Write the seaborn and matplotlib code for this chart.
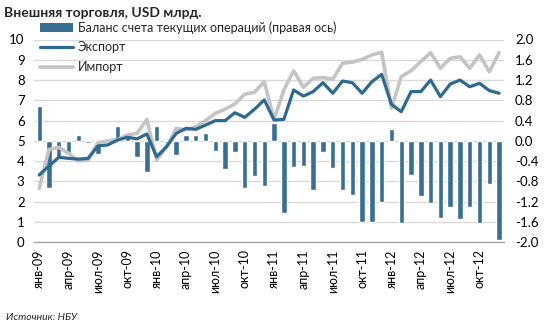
import matplotlib
matplotlib.use('Agg')
import matplotlib.pyplot as plt
import seaborn as sns
import pandas as pd
import numpy as np
from matplotlib.patches import Patch
from matplotlib.lines import Line2D

months = ['янв-09', 'фев-09', 'мар-09', 'апр-09', 'май-09', 'июн-09', 'июл-09', 'авг-09', 'сен-09', 'окт-09', 'ноя-09', 'дек-09',
          'янв-10', 'фев-10', 'мар-10', 'апр-10', 'май-10', 'июн-10', 'июл-10', 'авг-10', 'сен-10', 'окт-10', 'ноя-10', 'дек-10',
          'янв-11', 'фев-11', 'мар-11', 'апр-11', 'май-11', 'июн-11', 'июл-11', 'авг-11', 'сен-11', 'окт-11', 'ноя-11', 'дек-11',
          'янв-12', 'фев-12', 'мар-12', 'апр-12', 'май-12', 'июн-12', 'июл-12', 'авг-12', 'сен-12', 'окт-12', 'ноя-12', 'дек-12']

balance = [0.68, -0.93, -0.36, -0.23, 0.12, -0.05, -0.26, 0.00, 0.30, 0.15, -0.31, -0.62,
           0.30, -0.05, -0.27, 0.11, 0.11, 0.15, -0.20, -0.55, -0.21, -0.93, -0.69, -0.89,
           0.36, -1.43, -0.51, -0.50, -0.97, -0.22, -0.53, -0.97, -1.07, -1.59, -1.59, -1.20,
           0.24, -1.61, -0.67, -1.08, -1.22, -1.52, -1.31, -1.54, -1.30, -1.61, -0.85, -1.96]

export = [3.32, 3.76, 4.19, 4.14, 4.10, 4.14, 4.75, 4.80, 5.04, 5.18, 5.10, 5.34,
          4.22, 4.71, 5.37, 5.62, 5.57, 5.78, 6.00, 6.00, 6.39, 6.16, 6.56, 7.02,
          6.03, 6.06, 7.51, 7.21, 7.43, 7.87, 7.35, 7.95, 7.87, 7.35, 7.92, 8.28,
          6.80, 6.44, 7.43, 7.43, 8.00, 7.18, 7.80, 8.00, 7.67, 7.84, 7.48, 7.35]

imports = [2.66, 4.58, 4.68, 4.39, 4.02, 4.05, 4.92, 5.00, 5.06, 5.29, 5.37, 6.06,
           4.06, 4.68, 5.62, 5.54, 5.70, 6.00, 6.36, 6.56, 6.82, 7.30, 7.40, 7.92,
           6.06, 7.51, 8.46, 7.64, 8.09, 8.12, 8.04, 8.83, 8.88, 9.02, 9.24, 9.37,
           6.61, 8.17, 8.46, 8.91, 9.35, 8.58, 9.07, 9.15, 8.58, 9.24, 8.41, 9.35]

tick_labels = ['янв-09', 'апр-09', 'июл-09', 'окт-09', 'янв-10', 'апр-10', 'июл-10', 'окт-10',
               'янв-11', 'апр-11', 'июл-11', 'окт-11', 'янв-12', 'апр-12', 'июл-12', 'окт-12']

labels = ['Баланс счета текущих операций (правая ось)', 'Экспорт', 'Импорт']
title = 'Внешняя торговля, USD млрд.'
source = 'Источник: НБУ'

bar_color = '#3A6F94'
exp_color = '#2F6990'
imp_color = '#C4C4C4'
grid_color = '#D9D9D9'

sns.set_theme(style='white')
plt.rcParams['font.family'] = ['Lato', 'DejaVu Sans']
plt.rcParams['axes.unicode_minus'] = False

df = pd.DataFrame({'month': months, 'idx': np.arange(len(months)),
                   'balance': balance, 'export': export, 'import': imports})

fig = plt.figure(figsize=(5.5, 3.28), dpi=100)
ax = fig.add_axes([34.3 / 550, 1 - 242.3 / 328, (504 - 34.3) / 550, (242.3 - 39.5) / 328])

sns.barplot(data=df, x='month', y='balance', order=months, ax=ax, color=bar_color,
            saturation=1, width=0.55, zorder=2)

ax2 = ax.twinx()
sns.lineplot(data=df, x='idx', y='import', ax=ax2, color=imp_color, lw=2.6, zorder=2)
sns.lineplot(data=df, x='idx', y='export', ax=ax2, color=exp_color, lw=2.3, zorder=3)

# bar axis: right side ticks (-2..2)
ax.set_xlim(-0.5, len(months) - 0.5)
ax.set_ylim(-2, 2)
rticks = np.round(np.arange(-2.0, 2.01, 0.4), 1)
ax.set_yticks(rticks)
ax.set_yticklabels([f"{abs(v):.1f}" if abs(v) < 1e-9 else f"{v:.1f}" for v in rticks])
ax.yaxis.tick_right()
ax.grid(axis='y', color=grid_color, lw=1)
ax.grid(axis='x', visible=False)
ax.set_axisbelow(True)
for s in ['top', 'left', 'right']:
    ax.spines[s].set_visible(False)
ax.spines['bottom'].set_color('#A6A6A6')
ax.spines['bottom'].set_linewidth(1)
ax.set_xlabel('')
ax.set_ylabel('')
ax.tick_params(axis='y', which='both', length=0, labelsize=9.5, pad=8, colors='black',
               left=False, labelleft=False, right=False, labelright=True)

ax.set_xticks(np.arange(-0.5, len(months), 3))
ax.set_xticklabels([''] * len(np.arange(-0.5, len(months), 3)))
ax.set_xticks(np.arange(0, len(months), 3), minor=True)
ax.set_xticklabels(tick_labels, minor=True, rotation=90, fontsize=9)
ax.tick_params(axis='x', which='major', length=4, width=1, color='#A6A6A6', direction='out')
ax.tick_params(axis='x', which='minor', length=0, pad=5, colors='black')

# line axis: left side ticks (0..10)
ax2.set_ylim(0, 10)
ax2.set_yticks(range(0, 11))
ax2.tick_params(axis='y', length=0, labelsize=9.5, pad=7, colors='black',
                left=False, labelleft=True, right=False, labelright=False)
for s in ['top', 'left', 'right', 'bottom']:
    ax2.spines[s].set_visible(False)
ax2.set_xlabel('')
ax2.set_ylabel('')
ax2.set_xlim(-0.5, len(months) - 0.5)

handles = [Patch(facecolor=bar_color, edgecolor='none'),
           Line2D([], [], color=exp_color, lw=2.3),
           Line2D([], [], color=imp_color, lw=2.6)]
fig.legend(handles, labels, loc='upper left', bbox_to_anchor=(40 / 550, 1 - 21 / 328),
           frameon=False, fontsize=9, handlelength=2.6, handletextpad=0.4,
           labelspacing=0.62, borderpad=0, borderaxespad=0)

fig.text(4 / 550, 1 - 13 / 328, title, fontsize=10, fontweight='bold', va='center', ha='left')
fig.text(6 / 550, 1 - 318 / 328, source, fontsize=7.5, style='italic', va='center', ha='left')

fig.savefig('out.png', dpi=100)
